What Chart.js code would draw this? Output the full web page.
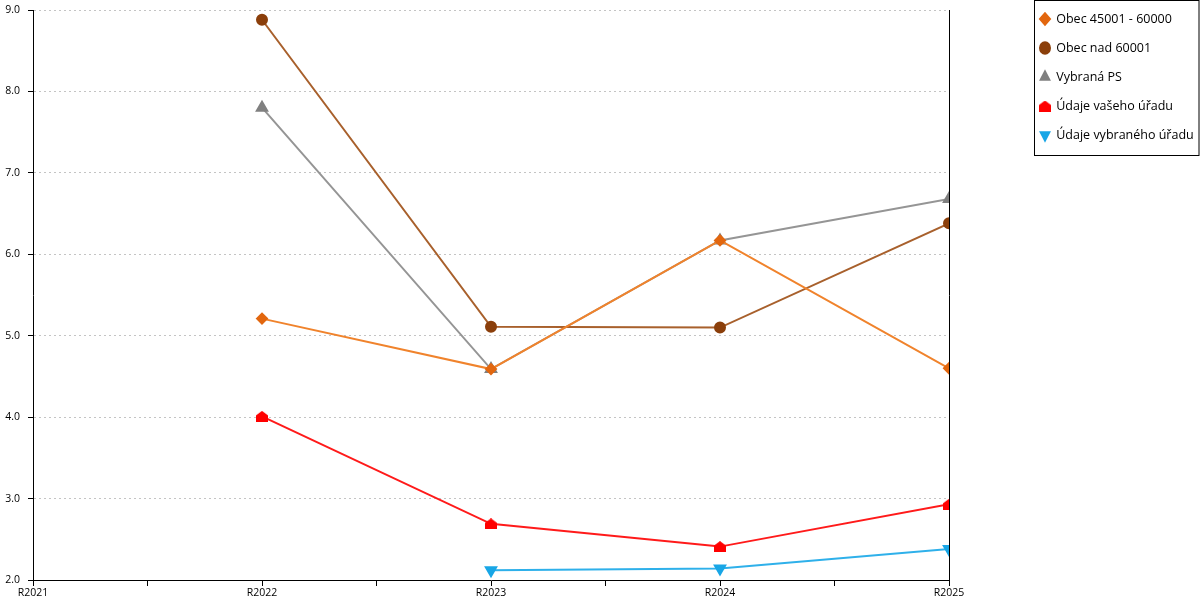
<!DOCTYPE html>
<html>
<head>
<meta charset="utf-8">
<script src="https://cdn.jsdelivr.net/npm/chart.js@4/dist/chart.umd.min.js"></script>
<style>
  html, body { margin: 0; padding: 0; background: #fff; }
  #wrap { width: 1200px; height: 600px; }
</style>
</head>
<body>
<div id="wrap"><canvas id="chart" width="1200" height="600"></canvas></div>
<script>
// categories and values
const years = ['R2021', 'R2022', 'R2023', 'R2024', 'R2025'];
const obec45 = [null, 5.21, 4.59, 6.17, 4.60];
const obec60 = [null, 8.88, 5.11, 5.10, 6.38];
const vybranaPS = [null, 7.80, 4.59, 6.17, 6.68];
const vasUrad = [null, 4.01, 2.69, 2.41, 2.93];
const vybranyUrad = [null, null, 2.12, 2.14, 2.38];
const yTicks = [2, 3, 4, 5, 6, 7, 8, 9];

const PLOT_LEFT = 33;
const PLOT_RIGHT = 949;   // where the right-hand axis line sits
const LEGEND_X = 1034;    // left edge of the framed legend
const LEGEND_PAD = 16.5;

// house-shaped marker for "Údaje vašeho úřadu"
function houseMarker(color) {
    const c = document.createElement('canvas');
    c.width = 12; c.height = 11;
    const g = c.getContext('2d');
    g.fillStyle = color;
    g.beginPath();
    g.moveTo(6, 0);
    g.lineTo(12, 4.5);
    g.lineTo(12, 11);
    g.lineTo(0, 11);
    g.lineTo(0, 4.5);
    g.closePath();
    g.fill();
    return c;
}

function points(arr) {
    const out = [];
    arr.forEach((v, i) => { if (v !== null) out.push({ x: i, y: v }); });
    return out;
}

// move the legend into its frame and draw the frame
const legendBox = {
    id: 'legendBox',
    afterLayout(chart) {
        const l = chart.legend;
        const w = l.width, h = l.height;
        l.left = LEGEND_X + 6 - LEGEND_PAD;
        l.right = l.left + w;
        l.top = 19 - LEGEND_PAD - 6.25;
        l.bottom = l.top + h;
    },
    afterDraw(chart) {
        const l = chart.legend;
        if (!l || !l.legendHitBoxes.length) return;
        const hb = l.legendHitBoxes;
        const last = hb[hb.length - 1];
        const ctx = chart.ctx;
        ctx.save();
        ctx.strokeStyle = '#000';
        ctx.lineWidth = 1;
        ctx.strokeRect(LEGEND_X + 0.5, 0.5, 1199 - LEGEND_X - 0.5, Math.round(last.top + last.height + 14));
        ctx.restore();
    }
};

const tickFont = { family: 'Open Sans', size: 10.5 };

const ctx = document.getElementById('chart').getContext('2d');
new Chart(ctx, {
    type: 'line',
    data: {
        datasets: [{
            label: 'Obec 45001 - 60000',
            data: points(obec45),
            borderColor: '#f0832c',
            pointBackgroundColor: '#e2670f',
            pointBorderColor: '#e2670f',
            pointStyle: 'rectRot',
            pointRadius: 5,
            borderWidth: 2
        }, {
            label: 'Obec nad 60001',
            data: points(obec60),
            borderColor: '#a8602c',
            pointBackgroundColor: '#8b3f0b',
            pointBorderColor: '#8b3f0b',
            pointStyle: 'circle',
            pointRadius: 5,
            borderWidth: 2
        }, {
            label: 'Vybraná PS',
            data: points(vybranaPS),
            borderColor: '#959595',
            pointBackgroundColor: '#808080',
            pointBorderColor: '#808080',
            pointStyle: 'triangle',
            pointRadius: 6,
            borderWidth: 2
        }, {
            label: 'Údaje vašeho úřadu',
            data: points(vasUrad),
            borderColor: '#ff1a1a',
            pointBackgroundColor: '#ff0000',
            pointBorderColor: '#ff0000',
            pointStyle: houseMarker('#ff0000'),
            borderWidth: 2
        }, {
            label: 'Údaje vybraného úřadu',
            data: points(vybranyUrad),
            borderColor: '#2eb0ea',
            pointBackgroundColor: '#18a6e6',
            pointBorderColor: '#18a6e6',
            pointStyle: 'triangle',
            pointRotation: 180,
            pointRadius: 6,
            borderWidth: 2
        }]
    },
    options: {
        responsive: false,
        animation: false,
        layout: { padding: { top: 10, right: 0, left: 0, bottom: 0 } },
        font: { family: 'Open Sans' },
        elements: { line: { tension: 0 }, point: { borderWidth: 1 } },
        scales: {
            x: {
                type: 'linear',
                min: 0,
                max: years.length - 1,
                ticks: {
                    stepSize: 0.5,
                    autoSkip: false,
                    maxRotation: 0,
                    color: '#000',
                    font: tickFont,
                    padding: 1,
                    callback: v => Number.isInteger(v) ? years[v] : ''
                },
                grid: { drawOnChartArea: false, tickLength: 6, tickColor: '#000' },
                border: { color: '#000', width: 1 },
                afterFit: s => { s.paddingLeft = 0; s.paddingRight = 0; s.height = 20; }
            },
            y: {
                min: 2,
                max: 9,
                afterBuildTicks: s => { s.ticks = yTicks.map(v => ({ value: v })); },
                ticks: {
                    color: '#000',
                    font: tickFont,
                    padding: 8,
                    callback: v => v.toFixed(1)
                },
                grid: { color: '#c4c4c4', tickLength: 5, tickColor: '#000' },
                border: { color: '#000', width: 1, dash: [2, 3] },
                afterFit: s => { s.paddingTop = 0; s.paddingBottom = 0; s.width = PLOT_LEFT; }
            },
            yRight: {
                position: 'right',
                min: 2,
                max: 9,
                ticks: { display: false },
                grid: { display: false },
                border: { color: '#000', width: 1 },
                afterFit: s => { s.width = 1200 - PLOT_RIGHT - s.chart.legend.width; }
            }
        },
        plugins: {
            legend: {
                position: 'right',
                align: 'start',
                labels: {
                    usePointStyle: true,
                    pointStyleWidth: 10,
                    boxHeight: 8,
                    color: '#000',
                    font: { family: 'Open Sans', size: 12.5 },
                    padding: LEGEND_PAD
                }
            },
            tooltip: { enabled: false }
        }
    },
    plugins: [legendBox]
});
</script>
</body>
</html>
